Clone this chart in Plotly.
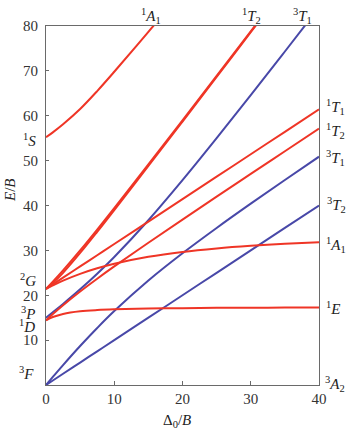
import plotly.graph_objects as go

# Delta0/B sample positions
delta = [0, 1, 2.5, 5, 7.5, 10, 15, 20, 25, 30, 35, 40]

# Triplet terms (blue), E/B
t3T2 = [0, 1, 2.5, 5, 7.5, 10, 15, 20, 25, 30, 35, 40]
t3T1_F = [0, 1.79, 4.43, 8.68, 12.70, 16.48, 23.29, 29.36, 35.00, 40.41, 45.68, 50.88]
t3T1_P = [15, 16.21, 18.07, 21.32, 24.80, 28.52, 36.71, 45.64, 55.00, 64.59, 74.32, 84.12]

# Singlet terms (red), E/B
s1E_a = [14.42, 15.15, 15.84, 16.42, 16.70, 16.86, 17.04, 17.13, 17.19, 17.22, 17.25, 17.27]
s1E_b = [21.42, 22.70, 25.00, 29.42, 34.14, 38.98, 48.80, 58.71, 68.65, 78.62, 88.59, 98.57]
s1T2_a = [14.42, 15.81, 17.79, 20.84, 23.69, 26.42, 31.70, 36.86, 41.97, 47.04, 52.09, 57.13]
s1T2_b = [21.42, 23.03, 25.55, 30.00, 34.65, 39.42, 49.14, 58.98, 68.87, 78.80, 88.75, 98.71]
s1T1 = [21.42, 22.42, 23.92, 26.42, 28.92, 31.42, 36.42, 41.42, 46.42, 51.42, 56.42, 61.42]
s1A1_a = [21.42, 22.19, 23.25, 24.76, 26.00, 27.02, 28.56, 29.64, 30.42, 31.01, 31.47, 31.83]
s1A1_b = [55.2, 56.3, 58.1, 61.5, 65.5, 69.8, 78.7, 87.7, 97.0, 106.5, 116.0, 125.6]

x_ticks = [0, 10, 20, 30, 40]
y_ticks = [10, 20, 30, 40, 50, 60, 70, 80]

RED = "#ef3526"
BLUE = "#4848a8"
FONT = "Liberation Serif"

fig = go.Figure()
for ys in [t3T2, t3T1_F, t3T1_P]:
    fig.add_trace(go.Scatter(x=delta, y=ys, mode="lines",
                             line=dict(color=BLUE, width=2, shape="spline"),
                             showlegend=False, hoverinfo="skip"))
for ys in [s1E_a, s1E_b, s1T2_a, s1T2_b, s1T1, s1A1_a, s1A1_b]:
    fig.add_trace(go.Scatter(x=delta, y=ys, mode="lines",
                             line=dict(color=RED, width=2, shape="spline"),
                             showlegend=False, hoverinfo="skip"))

W, H = 350, 437
L, R, T, B = 46, 31, 26, 52
pw, ph = W - L - R, H - T - B

def px(xp, yp):
    return (xp - L) / pw, (H - B - yp) / ph

labels = [
    ("<sup>1</sup><i>A</i><sub>1</sub>", 151, 16),
    ("<sup>1</sup><i>T</i><sub>2</sub>", 251, 16),
    ("<sup>3</sup><i>T</i><sub>1</sub>", 302, 16),
    ("<sup>1</sup><i>T</i><sub>1</sub>", 335, 107),
    ("<sup>1</sup><i>T</i><sub>2</sub>", 335, 131),
    ("<sup>3</sup><i>T</i><sub>1</sub>", 335, 158),
    ("<sup>3</sup><i>T</i><sub>2</sub>", 336, 205),
    ("<sup>1</sup><i>A</i><sub>1</sub>", 336, 245),
    ("<sup>1</sup><i>E</i>", 333, 308),
    ("<sup>3</sup><i>A</i><sub>2</sub>", 335, 384),
    ("<sup>1</sup><i>S</i>", 29, 140),
    ("<sup>2</sup><i>G</i>", 28, 280),
    ("<sup>3</sup><i>P</i>", 28, 313),
    ("<sup>1</sup><i>D</i>", 27, 326),
    ("<sup>3</sup><i>F</i>", 26, 373),
]
for text, xp, yp in labels:
    xa, ya = px(xp, yp)
    fig.add_annotation(x=xa, y=ya, xref="paper", yref="paper", text=text,
                       showarrow=False, xanchor="center", yanchor="middle",
                       font=dict(family=FONT, size=15, color="#222"))

# axis titles
xa, ya = px(177, 421)
fig.add_annotation(x=xa, y=ya, xref="paper", yref="paper", text="Δ<sub>0</sub>/<i>B</i>",
                   showarrow=False, xanchor="center", yanchor="middle",
                   font=dict(family=FONT, size=15, color="#222"))
xa, ya = px(10, 190)
fig.add_annotation(x=xa, y=ya, xref="paper", yref="paper", text="<i>E</i>/<i>B</i>",
                   showarrow=False, xanchor="center", yanchor="middle", textangle=-90,
                   font=dict(family=FONT, size=15, color="#222"))

axis_common = dict(showgrid=False, zeroline=False, showline=True, mirror=True,
                   linecolor="#6a6a6a", linewidth=1, ticks="inside", automargin=False,
                   tickcolor="#6a6a6a", tickfont=dict(family=FONT, size=15, color="#333"))
fig.update_xaxes(range=[0, 40], tickvals=x_ticks, ticklen=4, **axis_common)
fig.update_yaxes(range=[0, 80], tickvals=y_ticks, ticklen=3, ticklabelstandoff=4, **axis_common)

fig.update_layout(width=W, height=H, margin=dict(l=L, r=R, t=T, b=B),
                  paper_bgcolor="white", plot_bgcolor="white",
                  font=dict(family=FONT))
fig.write_html("out.html", config={"displayModeBar": False},
               post_script="document.body.style.margin='0';document.body.style.overflow='hidden';")
